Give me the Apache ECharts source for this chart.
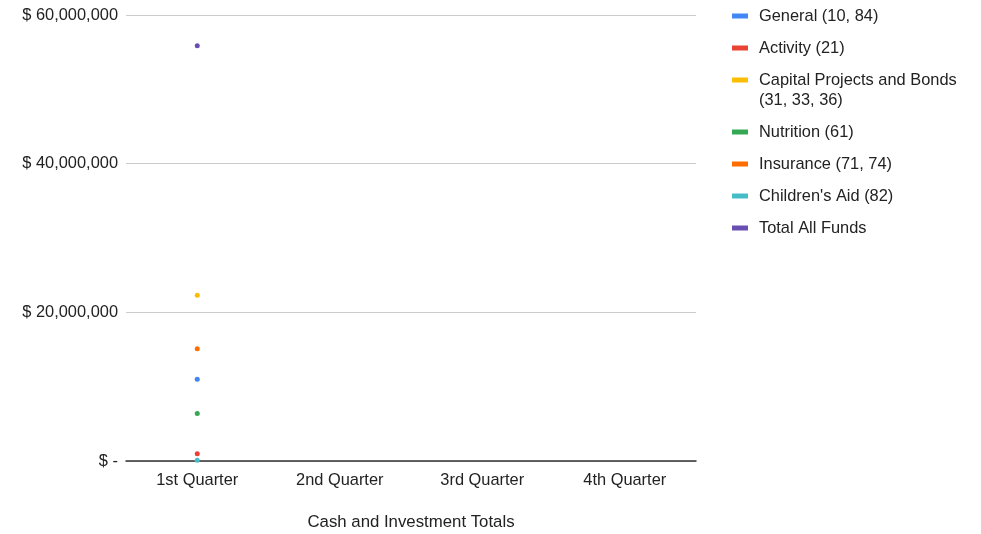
<!DOCTYPE html>
<html><head><meta charset="utf-8">
<script src="https://cdn.jsdelivr.net/npm/echarts@6/dist/echarts.min.js"></script>
<style>html,body{margin:0;padding:0;background:#fff}#c{width:981px;height:534px}</style>
</head><body><div id="c"></div>
<script>
const categories = ['1st Quarter', '2nd Quarter', '3rd Quarter', '4th Quarter'];
const seriesNames = ['General (10, 84)', 'Activity (21)', 'Capital Projects and Bonds', 'Nutrition (61)', 'Insurance (71, 74)', "Children's Aid (82)", 'Total All Funds'];
const general = [11000000, null, null, null];
const activity = [980000, null, null, null];
const capital = [22300000, null, null, null];
const nutrition = [6400000, null, null, null];
const insurance = [15100000, null, null, null];
const childrens = [100000, null, null, null];
const total = [55850000, null, null, null];
const seriesValues = [general, activity, capital, nutrition, insurance, childrens, total];
const colors = ['#4285f4', '#ea4335', '#fbbc04', '#34a853', '#ff6d01', '#46bdc6', '#6a4fb3'];
const yTicks = [0, 20000000, 40000000, 60000000];

const font = 'Arial, "Liberation Sans", sans-serif';
const fs = 16.4;
const chart = echarts.init(document.getElementById('c'));
const legendCommon = {
  orient: 'vertical', left: 732, padding: 0, itemWidth: 16, itemHeight: 5, itemGap: 12,
  icon: 'rect',
  textStyle: { fontFamily: font, fontSize: fs, color: '#222', lineHeight: 20, padding: [0, 0, 0, 6] }
};
chart.setOption({
  animation: false,
  color: colors,
  grid: { left: 126, right: 285, top: 15, bottom: 73, outerBoundsMode: 'none', containLabel: false },
  legend: [
    Object.assign({ top: 6, data: seriesNames.slice(0, 3) }, legendCommon),
    Object.assign({ top: 122, data: seriesNames.slice(3) }, legendCommon)
  ],
  graphic: [{ type: 'text', left: 759, top: 92, style: { text: '(31, 33, 36)', font: fs + 'px ' + font, fill: '#222' } }],
  xAxis: {
    type: 'category', data: categories, boundaryGap: true,
    name: 'Cash and Investment Totals', nameLocation: 'middle', nameGap: 53,
    nameTextStyle: { fontFamily: font, fontSize: 16.8, color: '#222' },
    axisLine: { lineStyle: { color: '#333', width: 1.5 } },
    axisTick: { show: false },
    axisLabel: { fontFamily: font, fontSize: fs, color: '#222', margin: 11 }
  },
  yAxis: {
    type: 'value', min: yTicks[0], max: yTicks[yTicks.length - 1], interval: yTicks[1] - yTicks[0],
    axisLine: { show: false }, axisTick: { show: false },
    splitLine: { lineStyle: { color: '#cccccc' } },
    axisLabel: {
      fontFamily: font, fontSize: fs, color: '#222', margin: 8,
      formatter: v => v === 0 ? '$ -' : '$ ' + v.toLocaleString('en-US')
    }
  },
  series: seriesNames.map((n, i) => ({
    name: n, type: 'line', data: seriesValues[i], symbol: 'circle', symbolSize: 5,
    showSymbol: true, connectNulls: false, lineStyle: { width: 2 }
  }))
});
</script></body></html>
